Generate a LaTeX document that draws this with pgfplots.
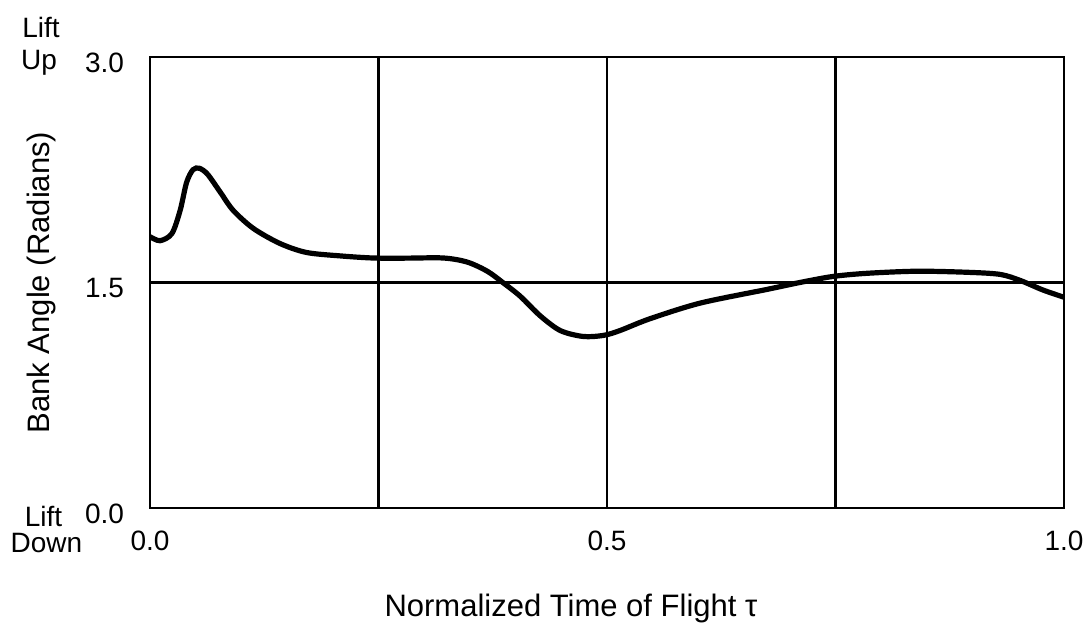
\documentclass[border=0pt]{standalone}
\usepackage{fontspec}
\setmainfont{Liberation Sans}
\usepackage{pgfplots}
\pgfplotsset{compat=1.18}

\begin{document}
\begin{tikzpicture}[font=\fontsize{14}{16.8}\selectfont]
\begin{axis}[
  name=ax,
  scale only axis,
  width=457pt, height=225.5pt,
  xmin=0, xmax=1, ymin=0, ymax=3,
  axis line style={line width=1.4pt},
  xtick={0,0.25,0.5,0.75,1},
  xticklabels={0.0,,0.5,,1.0},
  ytick={0,1.5,3},
  yticklabels={0.0,1.5,3.0},
  major tick length=0pt,
  grid=major,
  major grid style={black, line width=1.1pt},
  /pgf/number format/assume math mode=true,
  tick label style={font=\fontsize{14}{16.8}\selectfont},
  xticklabel style={yshift=-8pt},
  yticklabel style={xshift=-9.5pt, yshift=-3pt},
  xlabel={Normalized Time of Flight τ},
  ylabel={Bank Angle (Radians)},
  label style={font=\fontsize{15.5}{18.6}\selectfont},
  xlabel style={at={(axis description cs:0.4606,0)}, anchor=center, yshift=-50pt},
  ylabel style={at={(axis description cs:0,0.5)}, anchor=center, yshift=54.5pt},
]
\addplot[black, line width=2.6pt, smooth, tension=0.5] coordinates {
  (0.000,1.805) (0.011,1.778) (0.024,1.826) (0.033,1.980) (0.040,2.165)
  (0.047,2.250) (0.054,2.260) (0.063,2.220) (0.077,2.100) (0.091,1.980)
  (0.113,1.860) (0.142,1.760) (0.171,1.700) (0.208,1.677) (0.244,1.663)
  (0.280,1.662) (0.321,1.663) (0.347,1.636) (0.369,1.575) (0.386,1.500)
  (0.405,1.409) (0.427,1.278) (0.449,1.180) (0.474,1.141) (0.496,1.148)
  (0.514,1.180) (0.547,1.259) (0.602,1.363) (0.675,1.454) (0.711,1.500)
  (0.747,1.540) (0.784,1.561) (0.839,1.575) (0.894,1.568) (0.930,1.554)
  (0.952,1.514) (0.977,1.450) (1.000,1.402)
};
\end{axis}
\node[anchor=center] at ([shift={(-54.5pt,15pt)}]ax.north west) {Lift};
\node[anchor=center] at ([shift={(-55.5pt,-3pt)}]ax.north west) {Up};
\node[anchor=center] at ([shift={(-53.25pt,-4pt)}]ax.south west) {Lift};
\node[anchor=center] at ([shift={(-51.75pt,-17.5pt)}]ax.south west) {Down};
\pgfresetboundingbox
\path[use as bounding box] ([shift={(-75pt,-62.5pt)}]ax.south west) rectangle ([shift={(14pt,28.5pt)}]ax.north east);
\end{tikzpicture}
\end{document}
